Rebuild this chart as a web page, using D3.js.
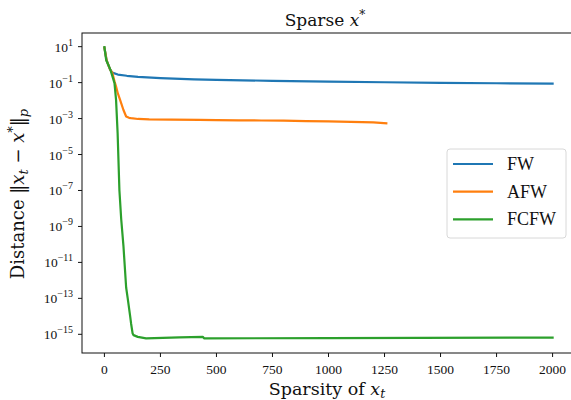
<!DOCTYPE html>
<html>
<head>
<meta charset="utf-8">
<script src="https://cdn.jsdelivr.net/npm/d3@7"></script>
<style>
body { margin: 0; background: #fff; }
text { font-family: "Liberation Serif", "DejaVu Serif", serif; fill: #111; }
.wide { font-family: "DejaVu Serif", serif; }
</style>
</head>
<body>
<script>
//data
var fwX = [0, 10, 25, 35, 60, 100, 150, 250, 400, 500, 750, 1000, 1250, 1500, 1750, 2000];
var fwY = [8.9, 1.7, 0.55, 0.36, 0.28, 0.24, 0.21, 0.18, 0.152, 0.142, 0.126, 0.114, 0.105, 0.098, 0.092, 0.087];

var afwX = [0, 10, 25, 35, 45, 52, 60, 70, 85, 97, 110, 119, 150, 200, 300, 424, 500, 600, 700, 800, 900, 1000, 1100, 1200, 1258];
var afwY = [8.9, 1.7, 0.55, 0.36, 0.12, 0.06, 0.025, 0.011, 0.003, 0.0013, 0.0011, 0.00105, 0.00095, 0.0009, 0.00088, 0.00085,
    0.00082, 0.0008, 0.00078, 0.00076, 0.00072, 0.0007, 0.00066, 0.00062, 0.00055];

var fcfwX = [0, 8, 27, 45, 52, 59, 67, 75, 85, 97, 104, 115, 119, 126, 130, 149, 186, 335, 439, 446, 1000, 2000];
var fcfwY = [9.3, 1.8, 0.51, 0.093, 0.011, 1.5e-4, 1e-7, 2.5e-9, 8e-11, 4e-13, 1e-13, 1e-14, 4e-15, 1.1e-15, 9e-16, 7.2e-16,
    6e-16, 6.8e-16, 7.2e-16, 5.9e-16, 6.2e-16, 6.6e-16];

var seriesNames = ["FW", "AFW", "FCFW"];
var colors = ["#1f77b4", "#ff7f0e", "#2ca02c"];
var xTicks = [0, 250, 500, 750, 1000, 1250, 1500, 1750, 2000];
var yExps = [1, -1, -3, -5, -7, -9, -11, -13, -15];

var series = [
    { name: seriesNames[0], xs: fwX, ys: fwY },
    { name: seriesNames[1], xs: afwX, ys: afwY },
    { name: seriesNames[2], xs: fcfwX, ys: fcfwY }
];

var W = 571, H = 400;
var m = { top: 33, right: -4, bottom: 47, left: 82 };
var w = W - m.left - m.right,
    h = H - m.top - m.bottom;

var x = d3.scaleLinear().domain([-100, 2100]).range([0, w]);
var y = d3.scaleLog().domain([Math.pow(10, -16.04), Math.pow(10, 1.76)]).range([h, 0]);

var svg = d3.select("body").append("svg")
    .attr("width", W)
    .attr("height", H);

var g = svg.append("g")
    .attr("transform", "translate(" + m.left + "," + m.top + ")");

//lines
var line = d3.line()
    .x(function (d) { return x(d[0]); })
    .y(function (d) { return y(d[1]); });

g.selectAll(".series")
    .data(series)
    .enter().append("path")
    .attr("d", function (d) { return line(d.xs.map(function (v, i) { return [v, d.ys[i]]; })); })
    .attr("fill", "none")
    .attr("stroke", function (d, i) { return colors[i]; })
    .attr("stroke-width", 2.2)
    .attr("stroke-linejoin", "round")
    .attr("stroke-linecap", "square");

//frame
g.append("rect")
    .attr("width", w).attr("height", h)
    .attr("fill", "none")
    .attr("stroke", "#111")
    .attr("stroke-width", 1);

//x axis
var xg = g.append("g").attr("transform", "translate(0," + h + ")");
xg.selectAll("line").data(xTicks).enter().append("line")
    .attr("x1", function (d) { return x(d); }).attr("x2", function (d) { return x(d); })
    .attr("y1", 0).attr("y2", 4)
    .attr("stroke", "#111");
xg.selectAll("text").data(xTicks).enter().append("text")
    .attr("x", function (d) { return x(d); })
    .attr("y", 21)
    .attr("text-anchor", "middle")
    .style("font-size", "13.5px")
    .text(function (d) { return d; });

//y axis
var yg = g.append("g");
yg.selectAll("line").data(yExps).enter().append("line")
    .attr("x1", -4).attr("x2", 0)
    .attr("y1", function (d) { return y(Math.pow(10, d)); })
    .attr("y2", function (d) { return y(Math.pow(10, d)); })
    .attr("stroke", "#111");
var yl = yg.selectAll("text").data(yExps).enter().append("text")
    .attr("x", -9)
    .attr("y", function (d) { return y(Math.pow(10, d)) + 5; })
    .attr("text-anchor", "end")
    .style("font-size", "13.5px");
yl.append("tspan").text("10");
yl.append("tspan")
    .attr("dy", -6)
    .style("font-size", "10px")
    .text(function (d) { return d < 0 ? "\u2212" + (-d) : d; });

//title
var title = svg.append("text")
    .attr("class", "wide")
    .attr("x", 325).attr("y", 26)
    .attr("text-anchor", "middle")
    .style("font-size", "17px");
title.append("tspan").text("Sparse ");
title.append("tspan").style("font-style", "italic").text("x");
title.append("tspan").attr("dy", -7).style("font-size", "12px").text("*");

//x label
var xl = svg.append("text")
    .attr("class", "wide")
    .attr("x", 327).attr("y", 395)
    .attr("text-anchor", "middle")
    .style("font-size", "17.5px");
xl.append("tspan").text("Sparsity of ");
xl.append("tspan").style("font-style", "italic").text("x");
xl.append("tspan").attr("dy", 3).style("font-size", "12.5px").style("font-style", "italic").text("t");

//y label
var ylab = svg.append("text")
    .attr("class", "wide")
    .attr("transform", "translate(24," + 194 + ") rotate(-90)")
    .attr("text-anchor", "middle")
    .style("font-size", "18px");
ylab.append("tspan").text("Distance \u2016");
ylab.append("tspan").style("font-style", "italic").text("x");
ylab.append("tspan").attr("dy", 4).style("font-size", "13px").style("font-style", "italic").text("t");
ylab.append("tspan").attr("dy", -4).text(" \u2212 ");
ylab.append("tspan").style("font-style", "italic").text("x");
ylab.append("tspan").attr("dy", -7).style("font-size", "13px").text("*");
ylab.append("tspan").attr("dy", 7).text("\u2016");
ylab.append("tspan").attr("dy", 4).style("font-size", "13px").style("font-style", "italic").text("p");

//legend
var lg = svg.append("g").attr("transform", "translate(447,149)");
lg.append("rect")
    .attr("width", 119).attr("height", 89)
    .attr("rx", 3)
    .attr("fill", "#fff").attr("fill-opacity", 0.8)
    .attr("stroke", "#d8d8d8");
var items = lg.selectAll(".item").data(seriesNames).enter().append("g")
    .attr("transform", function (d, i) { return "translate(0," + (15 + i * 27.7) + ")"; });
items.append("line")
    .attr("x1", 6).attr("x2", 46)
    .attr("stroke", function (d, i) { return colors[i]; })
    .attr("stroke-width", 2.2);
items.append("text")
    .attr("x", 60).attr("y", 6)
    .style("font-size", "18px")
    .text(function (d) { return d; });
</script>
</body>
</html>
